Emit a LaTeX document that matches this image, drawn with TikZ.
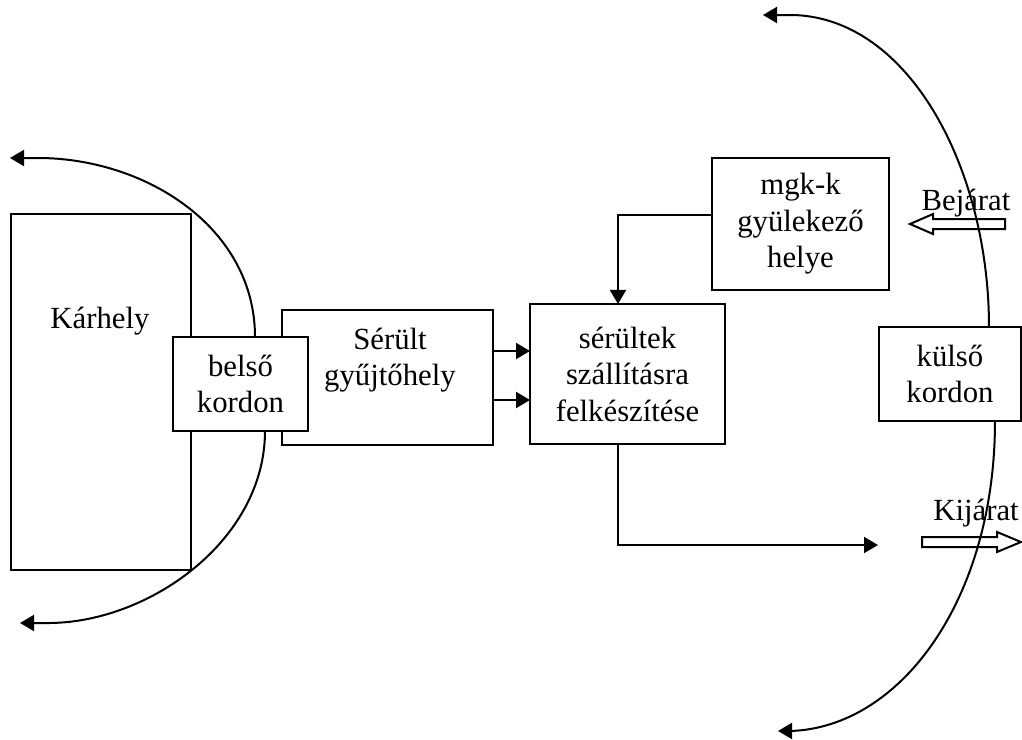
\documentclass[tikz,border=0pt]{standalone}
\usepackage{fontspec}
\setmainfont{Liberation Serif}
\usetikzlibrary{arrows.meta}
\begin{document}
\begin{tikzpicture}[x=0.4pt,y=-0.4pt,
  line width=0.8pt,
  font=\fontsize{12.3}{14.6}\selectfont,
  box/.style={draw, fill=white, rectangle, inner sep=0pt, outer sep=0pt, align=center},
  lbl/.style={inner sep=0pt, align=center},
  tip/.style={-{Triangle[length=5.6pt,width=6.4pt]}}]
\useasboundingbox (0,0) rectangle (1022,740);

% helper rows and columns
\coordinate (row1) at (0,351);
\coordinate (row2) at (0,400);
\coordinate (mrow) at (0,215);
\coordinate (vx) at (618,0);
\coordinate (exitEnd) at (878,545);
\coordinate (inTopTip) at (10,158);
\coordinate (inBotTip) at (20,623);
\coordinate (outTopTip) at (763,15);
\coordinate (outBotTip) at (778,731);

% area and collection boxes
\node[box, minimum width=72pt, minimum height=142.4pt] (karhely) at (101,392) {};
\node[lbl, anchor=base] (karhelyText) at (100,328) {Kárhely};
\node[box, minimum width=84.4pt, minimum height=54pt] (serult) at (387.5,377.5) {};
\node[lbl] (serultText) at (390,360) {Sérült\\gyűjtőhely};

% inner cordon with its arcs
\node[box, minimum width=54pt, minimum height=37.6pt] (belso) at (240.5,384) {belső\\kordon};
\draw[tip] ([xshift=5.8pt]belso.north) .. controls (255,230) and (150,160) .. (42,158) -- (inTopTip);
\draw[tip] ([xshift=9.8pt]belso.south) .. controls (265,540) and (150,622) .. (50,623) -- (inBotTip);

% preparation and assembly boxes
\node[box, minimum width=78pt, minimum height=56pt] (szall) at (627.5,374) {sérültek\\szállításra\\felkészítése};
\node[box, minimum width=70.8pt, minimum height=52.8pt] (mgk) at (800.5,224) {mgk-k\\gyülekező\\helye};

% flows
\draw[tip] (serult.east |- row1) -- (szall.west |- row1);
\draw[tip] (serult.east |- row2) -- (szall.west |- row2);
\draw[tip] (mgk.west |- mrow) -| (vx |- szall.north);
\draw[tip] (vx |- szall.south) |- (exitEnd);

% entrance and exit
\node[lbl, anchor=base] (bejarat) at (966,211) {Bejárat};
\draw (1005,219) -- (933,219) -- (933,214) -- (910,224) -- (933,234) -- (933,229) -- (1005,229) -- cycle;
\node[lbl, anchor=base] (kijarat) at (976,520) {Kijárat};
\draw (922,537) -- (997,537) -- (997,532) -- (1021,542) -- (997,552) -- (997,547) -- (922,547) -- cycle;

% outer cordon
\node[box, minimum width=56.8pt, minimum height=37.6pt] (kulso) at (950,374) {külső\\kordon};
\draw[tip] ([xshift=15.6pt]kulso.north) .. controls (989,170) and (910,18) .. (793,15) -- (outTopTip);
\draw[tip] ([xshift=18pt]kulso.south) .. controls (995,600) and (900,728) .. (790,731) -- (outBotTip);
\end{tikzpicture}
\end{document}
